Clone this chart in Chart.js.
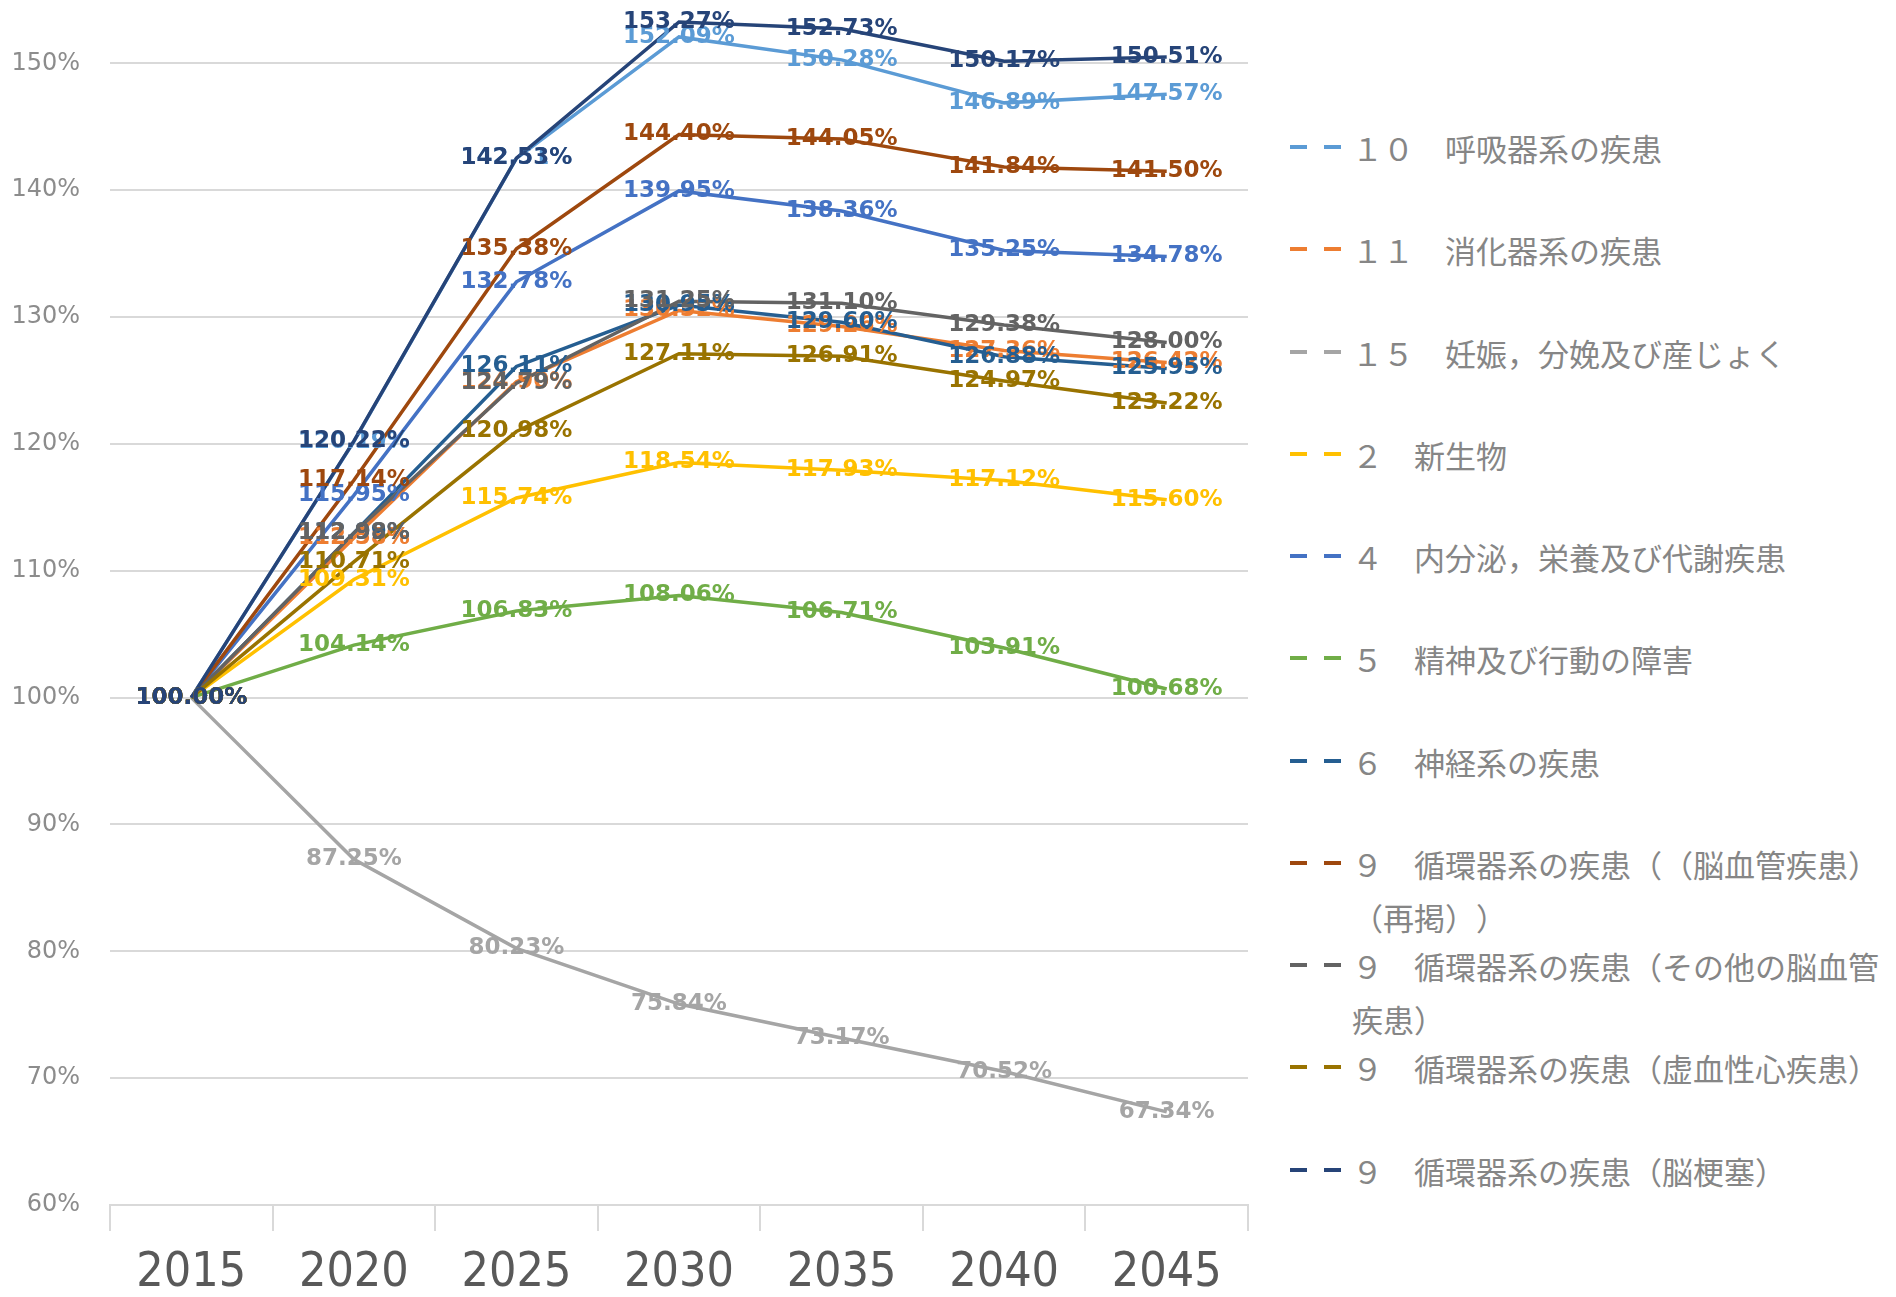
<!DOCTYPE html>
<html lang="ja">
<head>
<meta charset="UTF-8">
<title>疾病分類別 患者数の推移（2015年＝100%）</title>
<script src="https://cdn.jsdelivr.net/npm/chart.js@4.4.1/dist/chart.umd.min.js"></script>
<style>
    html, body {
        margin: 0;
        height: 100%;
        background: #fff;
        overflow: hidden;
    }

    #chart-box {
        position: absolute;
        left: 0;
        top: 0;
        width: 1260px;
        height: 1297px;
    }

    #legend {
        position: absolute;
        left: 1290px;
        top: 121px;
        width: 606px;
        font-family: "Noto Sans CJK JP", sans-serif;
        font-size: 31px;
        color: #868686;
        text-spacing-trim: space-all;
        font-feature-settings: "chws" 0, "halt" 0, "palt" 0;
        font-kerning: none;
    }

    #legend .item {
        position: relative;
        height: 102.25px;
    }

    #legend .dash {
        position: absolute;
        top: 24px;
        width: 17px;
        height: 4px;
    }

    #legend .txt {
        margin-left: 62px;
        width: 545px;
        line-height: 53px;
    }
</style>
</head>
<body>
<div id="chart-box"><canvas id="chart"></canvas></div>
<div id="legend"></div>

<script>
// 年次
const years = ['2015', '2020', '2025', '2030', '2035', '2040', '2045'];

// 凡例名（表示順）
const names = [
    '１０　呼吸器系の疾患',
    '１１　消化器系の疾患',
    '１５　妊娠，分娩及び産じょく',
    '２　新生物',
    '４　内分泌，栄養及び代謝疾患',
    '５　精神及び行動の障害',
    '６　神経系の疾患',
    '９　循環器系の疾患（（脳血管疾患）（再掲））',
    '９　循環器系の疾患（その他の脳血管疾患）',
    '９　循環器系の疾患（虚血性心疾患）',
    '９　循環器系の疾患（脳梗塞）'
];

// 2015年を100%とした値
const respiratory = [100, 120.19, 142.51, 152.09, 150.28, 146.89, 147.57];
const digestive = [100, 112.58, 124.90, 130.52, 129.26, 127.36, 126.42];
const pregnancy = [100, 87.25, 80.23, 75.84, 73.17, 70.52, 67.34];
const neoplasm = [100, 109.31, 115.74, 118.54, 117.93, 117.12, 115.60];
const endocrine = [100, 115.95, 132.78, 139.95, 138.36, 135.25, 134.78];
const mental = [100, 104.14, 106.83, 108.06, 106.71, 103.91, 100.68];
const nervous = [100, 112.99, 126.11, 130.95, 129.60, 126.88, 125.95];
const cerebroTotal = [100, 117.14, 135.38, 144.40, 144.05, 141.84, 141.50];
const cerebroOther = [100, 112.98, 124.79, 131.25, 131.10, 129.38, 128.00];
const ischemic = [100, 110.71, 120.98, 127.11, 126.91, 124.97, 123.22];
const infarction = [100, 120.22, 142.53, 153.27, 152.73, 150.17, 150.51];

const seriesValues = [respiratory, digestive, pregnancy, neoplasm, endocrine, mental,
    nervous, cerebroTotal, cerebroOther, ischemic, infarction];

const colors = ['#5B9BD5', '#ED7D31', '#A5A5A5', '#FFC000', '#4472C4', '#70AD47',
    '#255E91', '#9E480E', '#636363', '#997300', '#264478'];

// 縦軸
const yTickMin = 60;
const yTickMax = 155;
const yTickStep = 10;

// データラベル（点の中央に描く）
const valueLabels = {
    id: 'valueLabels',
    afterDatasetsDraw(chart) {
        const ctx = chart.ctx;
        ctx.save();
        ctx.font = 'bold 23px "DejaVu Sans"';
        ctx.textAlign = 'center';
        ctx.textBaseline = 'middle';
        chart.data.datasets.forEach((ds, i) => {
            const meta = chart.getDatasetMeta(i);
            ctx.fillStyle = ds.borderColor;
            meta.data.forEach((pt, j) => {
                ctx.fillText(ds.data[j].toFixed(2) + '%', pt.x, pt.y);
            });
        });
        ctx.restore();
    }
};

const datasets = seriesValues.map((vals, i) => ({
    label: names[i],
    data: vals,
    borderColor: colors[i],
    backgroundColor: colors[i],
    borderWidth: 3.5,
    pointRadius: 0,
    tension: 0,
    fill: false,
    order: seriesValues.length - i
}));

new Chart(document.getElementById('chart'), {
    type: 'line',
    data: { labels: years, datasets: datasets },
    options: {
        responsive: true,
        maintainAspectRatio: false,
        animation: false,
        layout: { padding: { top: 0, right: 12, bottom: 0, left: 0 } },
        plugins: {
            legend: { display: false },
            tooltip: { enabled: false }
        },
        scales: {
            x: {
                type: 'category',
                offset: true,
                grid: {
                    offset: true,
                    drawOnChartArea: false,
                    tickLength: 26,
                    color: '#d9d9d9',
                    lineWidth: 2
                },
                border: { color: '#d9d9d9', width: 2 },
                ticks: {
                    color: '#595959',
                    padding: 14,
                    font: { family: '"DejaVu Sans Condensed", "DejaVu Sans", sans-serif', size: 48 }
                },
                afterFit(scale) {
                    scale.height = 92;
                    scale.paddingLeft = 0;
                    scale.paddingRight = 0;
                }
            },
            y: {
                min: yTickMin,
                max: yTickMax,
                grid: { color: '#d9d9d9', lineWidth: 2, drawTicks: false },
                border: { display: false },
                ticks: {
                    stepSize: yTickStep,
                    includeBounds: false,
                    padding: 30,
                    color: '#8c8c8c',
                    font: { family: '"DejaVu Sans"', size: 24 },
                    callback: (v) => v + '%'
                },
                afterFit(scale) {
                    scale.width = 110;
                    scale.paddingTop = 0;
                    scale.paddingBottom = 0;
                }
            }
        }
    },
    plugins: [valueLabels]
});

// 凡例（右側）
const legendBox = document.getElementById('legend');
names.forEach((name, i) => {
    const item = document.createElement('div');
    item.className = 'item';
    [0, 34].forEach((dx) => {
        const d = document.createElement('span');
        d.className = 'dash';
        d.style.left = dx + 'px';
        d.style.background = colors[i];
        item.appendChild(d);
    });
    const t = document.createElement('div');
    t.className = 'txt';
    t.textContent = name;
    item.appendChild(t);
    legendBox.appendChild(item);
});
</script>
</body>
</html>
